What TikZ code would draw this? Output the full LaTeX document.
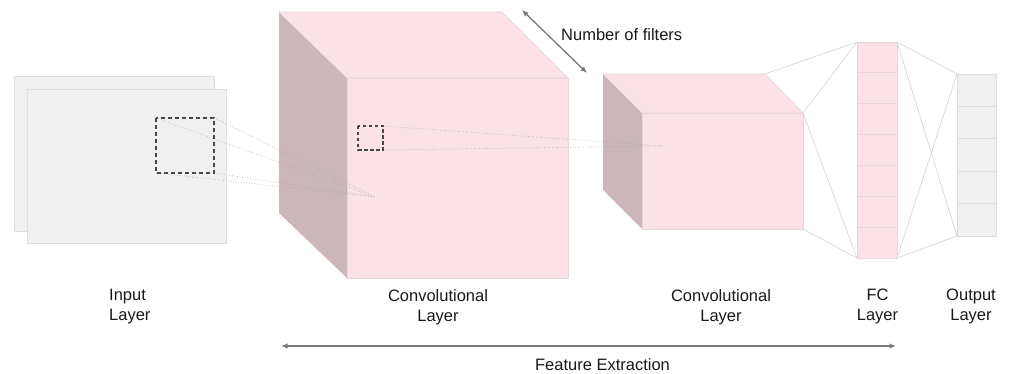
\documentclass[tikz,border=0pt]{standalone}
\usepackage{fontspec}
\setmainfont{Liberation Sans}
\usetikzlibrary{arrows.meta,calc}
\definecolor{sheet}{RGB}{240,240,240}
\definecolor{sheetedge}{RGB}{222,222,222}
\definecolor{pinkfront}{RGB}{252,225,230}
\definecolor{pinkside}{RGB}{204,182,186}
\definecolor{pinkedge}{RGB}{232,214,218}
\definecolor{linkgray}{RGB}{215,215,215}
\definecolor{raygray}{RGB}{165,165,165}
\definecolor{arrowgray}{RGB}{120,120,120}
\definecolor{textdark}{RGB}{25,25,25}
\begin{document}
\begin{tikzpicture}[x=1pt,y=-1pt,
  sheetbox/.style={fill=sheet,draw=sheetedge,line width=0.8pt},
  frontface/.style={fill=pinkfront,draw=pinkedge,line width=0.6pt},
  sideface/.style={fill=pinkside,draw=none},
  topface/.style={fill=pinkfront,draw=pinkedge,line width=0.6pt},
  window/.style={draw=black!72,line width=1.4pt,dash pattern=on 4pt off 3pt},
  smallwindow/.style={draw=black!72,line width=1.2pt,dash pattern=on 3.5pt off 2.5pt},
  ray/.style={draw=raygray,line width=0.6pt,dotted},
  link/.style={draw=linkgray,line width=0.7pt},
  span/.style={draw=arrowgray,line width=1.3pt,{Latex[length=6.5pt,width=5.5pt]}-{Latex[length=6.5pt,width=5.5pt]}},
  lbl/.style={font=\fontsize{16.5}{20}\selectfont,text=textdark,inner sep=0pt,align=center,anchor=north}
]
\useasboundingbox (0,0) rectangle (1011,374);

% ---- input layer: two stacked sheets ----
\coordinate (inBackA) at (14,76);   \coordinate (inBackB) at (214,231);
\coordinate (inFrontA) at (27,89);  \coordinate (inFrontB) at (226,243);
\draw[sheetbox] (inBackA) rectangle (inBackB);
\draw[sheetbox] (inFrontA) rectangle (inFrontB);

% ---- first convolutional volume ----
\coordinate (aBTL) at (279,12);  \coordinate (aBTR) at (502,12);
\coordinate (aBBL) at (279,213);
\coordinate (aFTL) at (347,78);  \coordinate (aFTR) at (568,78);
\coordinate (aFBL) at (347,278); \coordinate (aFBR) at (568,278);
\fill[sideface] (aBTL) -- (aFTL) -- (aFBL) -- (aBBL) -- cycle;
\draw[topface] (aBTL) -- (aBTR) -- (aFTR) -- (aFTL) -- cycle;
\draw[frontface] (aFTL) rectangle (aFBR);

% ---- second convolutional volume ----
\coordinate (bBTL) at (603,74);  \coordinate (bBTR) at (765,74);
\coordinate (bBBL) at (603,190);
\coordinate (bFTL) at (642,113); \coordinate (bFTR) at (803,113);
\coordinate (bFBL) at (642,229); \coordinate (bFBR) at (803,229);
\fill[sideface] (bBTL) -- (bFTL) -- (bFBL) -- (bBBL) -- cycle;
\draw[topface] (bBTL) -- (bBTR) -- (bFTR) -- (bFTL) -- cycle;
\draw[frontface] (bFTL) rectangle (bFBR);

% ---- receptive field on the input ----
\coordinate (wTL) at (156,118); \coordinate (wTR) at (214,118);
\coordinate (wBL) at (156,173); \coordinate (wBR) at (214,173);
\coordinate (focusA) at (375,197);
\draw[ray] (wTL) -- (focusA);
\draw[ray] (wTR) -- (focusA);
\draw[ray] (wBL) -- (focusA);
\draw[ray] (wBR) -- (focusA);
\draw[window] (wTL) rectangle (wBR);

% ---- receptive field on the first volume ----
\coordinate (vTL) at (358,126); \coordinate (vTR) at (383,126);
\coordinate (vBR) at (383,150);
\coordinate (focusB) at (662,146);
\draw[ray] (vTR) -- (focusB);
\draw[ray] (vBR) -- (focusB);
\draw[smallwindow] (vTL) rectangle (vBR);

% ---- fully connected column ----
\coordinate (fcTL) at (857,42);  \coordinate (fcTR) at (897,42);
\coordinate (fcBL) at (857,258); \coordinate (fcBR) at (897,258);
\draw[frontface] (fcTL) rectangle (fcBR);
\foreach \k in {1,...,6}
  \draw[pinkedge,line width=0.8pt] ($(fcTL)!\k/7!(fcBL)$) -- ($(fcTR)!\k/7!(fcBR)$);

% ---- output column ----
\coordinate (oTL) at (957,74);  \coordinate (oTR) at (996,74);
\coordinate (oBL) at (957,236); \coordinate (oBR) at (996,236);
\draw[sheetbox] (oTL) rectangle (oBR);
\foreach \k in {1,...,4}
  \draw[sheetedge,line width=0.8pt] ($(oTL)!\k/5!(oBL)$) -- ($(oTR)!\k/5!(oBR)$);

% ---- connections between the last layers ----
\draw[link] (bBTR) -- (fcTL);
\draw[link] (bFTR) -- (fcTL);
\draw[link] (bFTR) -- (fcBL);
\draw[link] (bFBR) -- (fcBL);
\draw[link] (fcTR) -- (oTL);
\draw[link] (fcTR) -- (oBL);
\draw[link] (fcBR) -- (oTL);
\draw[link] (fcBR) -- (oBL);

% ---- depth arrow ----
\coordinate (depthA) at (522,10);
\coordinate (depthB) at (587,73);
\draw[span] (depthA) -- (depthB);
\node[lbl,anchor=north west] (depthlbl) at (561,28) {Number of filters};

% ---- feature extraction span ----
\coordinate (featA) at (281,346);
\coordinate (featB) at (896,346);
\draw[span] (featA) -- (featB);
\node[lbl] (featlbl) at (602.5,358) {Feature Extraction};

% ---- layer captions ----
\node[lbl,align=left,anchor=north west] (capIn) at (109,289) {Input\\Layer};
\node[lbl] (capConvA) at (438,289) {Convolutional\\Layer};
\node[lbl] (capConvB) at (721,289) {Convolutional\\Layer};
\node[lbl] (capFC) at (877.5,289) {FC\\Layer};
\node[lbl] (capOut) at (971,289) {Output\\Layer};
\end{tikzpicture}
\end{document}
